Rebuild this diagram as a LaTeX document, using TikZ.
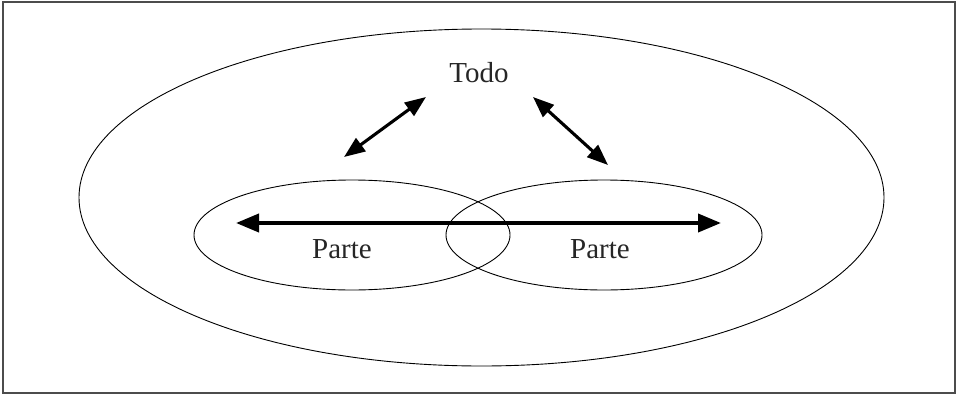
\documentclass[tikz,border=0pt]{standalone}
\usepackage{fontspec}
\setmainfont{Liberation Serif}
\usetikzlibrary{arrows.meta,shapes.geometric}
\begin{document}
\begin{tikzpicture}[x=1pt,y=-1pt,
  oval/.style={draw=black, line width=0.9pt, ellipse, inner sep=0pt},
  lbl/.style={font=\fontsize{29}{34}\selectfont, anchor=base, inner sep=0pt, text=black!85},
  bigarrow/.style={line width=3.9pt, {Triangle[length=23pt,width=18pt]}-{Triangle[length=23pt,width=18pt]}},
  diagarrow/.style={line width=3.1pt, {Triangle[length=21pt,width=16pt]}-{Triangle[length=21pt,width=16pt]}},
  framebox/.style={draw=black!70, line width=1.3pt}]
\useasboundingbox (0,0) rectangle (957,396);
\draw[framebox] (3,2) rectangle (955,393);
\node[oval, minimum width=805pt, minimum height=337pt] (whole) at (481.5,197.5) {};
\node[oval, minimum width=316pt, minimum height=110pt] (leftpart) at (352,235) {};
\node[oval, minimum width=316pt, minimum height=110pt] (rightpart) at (604,235) {};
\node[lbl] (todo) at (479,82) {Todo};
\node[lbl] (parteL) at (342,258) {Parte};
\node[lbl] (parteR) at (600,258) {Parte};
\coordinate (hl) at (236,223);
\coordinate (hr) at (721,223);
\coordinate (dl1) at (344,157);
\coordinate (dl2) at (426,97);
\coordinate (dr1) at (533,97);
\coordinate (dr2) at (608,165);
\draw[bigarrow] (hl) -- (hr);
\draw[diagarrow] (dl1) -- (dl2);
\draw[diagarrow] (dr1) -- (dr2);
\end{tikzpicture}
\end{document}
